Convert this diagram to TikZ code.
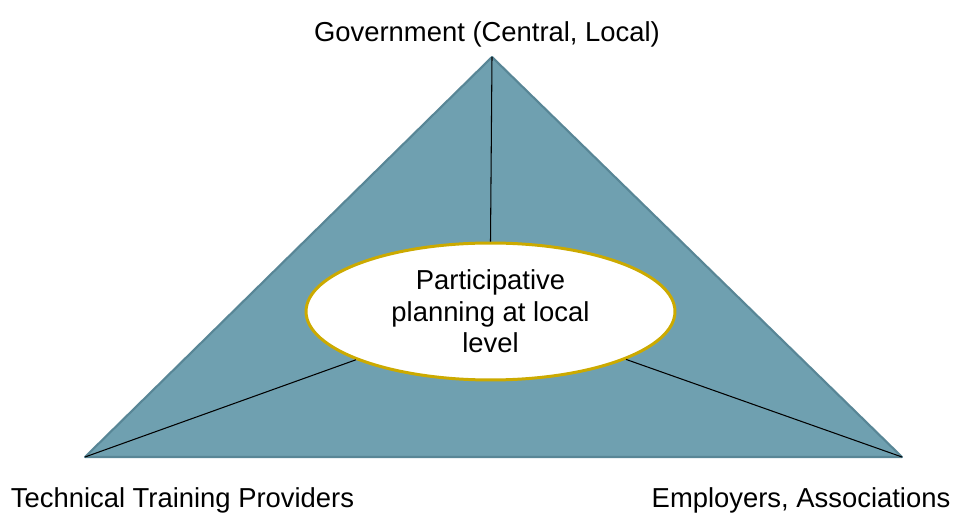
\documentclass[tikz,border=0pt]{standalone}
\usepackage{fontspec}
\setmainfont{Liberation Sans}
\usetikzlibrary{shapes.geometric}

\definecolor{dreieck}{RGB}{111,160,176}
\definecolor{kante}{RGB}{88,134,150}
\definecolor{gold}{RGB}{204,170,0}

\tikzset{
	partner/.style={anchor=base, font=\fontsize{15.6}{18}\selectfont},
	planung/.style={ellipse, draw=gold, line width=1.7pt, fill=white,
		minimum width=7.38cm, minimum height=2.74cm, inner sep=0pt,
		align=center, font=\fontsize{15.6}{18}\selectfont},
	verbindung/.style={black, line width=0.6pt}
}

\begin{document}
\begin{tikzpicture}[x=0.02cm, y=-0.02cm]
		\useasboundingbox (0,0) rectangle (954,513);
		% Ecken
		\coordinate (spitze) at (492,57);
		\coordinate (links) at (85,457);
		\coordinate (rechts) at (902,457);
		% Dreieck
		\draw[fill=dreieck, draw=kante, line width=1.2pt, line join=round]
			(spitze) -- (rechts) -- (links) -- cycle;
		% Planung
		\node[planung] (plan) at (490.5,311.5)
			{Participative\\planning at local\\level};
		% Verbindungen
		\draw[verbindung] (spitze) -- (plan.north);
		\draw[verbindung] (links) -- (plan);
		\draw[verbindung] (rechts) -- (plan);
		% Beschriftung
		\node[partner] (gov) at (487,42) {Government (Central, Local)};
		\node[partner] (ttp) at (182.5,507) {Technical Training Providers};
		\node[partner] (emp) at (801,507) {Employers, Associations};
	\end{tikzpicture}
\end{document}
